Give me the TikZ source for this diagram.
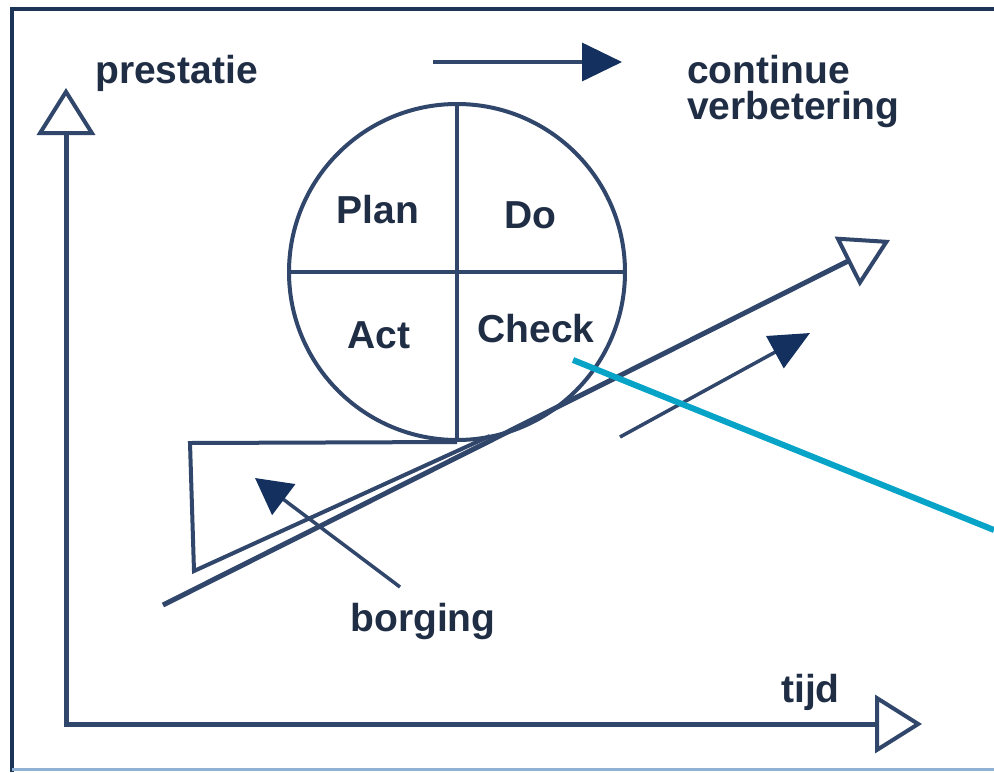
\documentclass[tikz,border=0pt]{standalone}
\usepackage{fontspec}
\setmainfont{Liberation Sans}
\usetikzlibrary{arrows.meta}
\definecolor{txt}{HTML}{1F2D45}
\definecolor{linec}{HTML}{31466B}
\definecolor{headc}{HTML}{13305E}
\definecolor{framec}{HTML}{1C3557}
\definecolor{framelow}{HTML}{8FB2D4}
\definecolor{cyanl}{HTML}{07A4C8}
\begin{document}
\begin{tikzpicture}[x=1pt,y=-1pt,
  lbl/.style={font=\fontsize{39}{36}\selectfont\bfseries, text=txt, inner sep=0pt},
  ln/.style={draw=linec, line width=4pt},
  axis/.style={draw=linec, line width=5pt, line join=miter},
  fillarrow/.style={draw=linec, line width=3.5pt}
]
\useasboundingbox (0,0) rectangle (994,772);
\fill[white] (0,0) rectangle (994,772);
% frame
\draw[framec, line width=4pt] (12,772) -- (12,9) -- (994,9);
\draw[framelow, line width=3pt] (12,769.5) -- (994,769.5);

% axes
\coordinate (ytip) at (66,88);
\coordinate (origin) at (66,724);
\coordinate (xtip) at (922,724);
\draw[axis, {Triangle[open,length=47pt,width=58pt,line width=4pt]}-{Triangle[open,length=47pt,width=58pt,line width=4pt]}]
  (ytip) -- (origin) -- (xtip);

% labels
\node[lbl, anchor=base west] (prestatie) at (95,83) {prestatie};
\node[lbl, anchor=north west, align=left] (cv) at (687,55) {continue\\verbetering};
\node[lbl, anchor=base west] (tijd) at (781,702) {tijd};
\node[lbl, anchor=base] (borging) at (423,631) {borging};

% top arrow
\coordinate (ta) at (433,62);
\coordinate (tb) at (622,62);
\draw[fillarrow, -{Triangle[length=40pt,width=38pt,color=headc]}] (ta) -- (tb);

% PDCA circle
\node[circle, draw=linec, line width=4pt, minimum size=336pt, inner sep=0pt] (pdca) at (457,272) {};
\draw[ln] (pdca.north) -- (pdca.south);
\draw[ln] (pdca.west) -- (pdca.east);
\node[lbl, anchor=base] (plan) at (378,223) {Plan};
\node[lbl, anchor=base] (do) at (530,228) {Do};
\node[lbl, anchor=base] (act) at (379,348) {Act};
\node[lbl, anchor=base] (check) at (536,342) {Check};

% wedge (borging)
\draw[ln, line join=miter] (pdca.south) -- (190,443) -- (194,571) -- (490,436);

% incline
\coordinate (inc0) at (163,605);
\coordinate (inc1) at (890,240);
\draw[draw=linec, line width=5pt, -{Triangle[open,length=48pt,width=55pt,line width=4pt]}] (inc0) -- (inc1);

% small parallel arrow
\coordinate (sa) at (620,437);
\coordinate (sb) at (810,333);
\draw[fillarrow, -{Triangle[length=40pt,width=36pt,color=headc]}] (sa) -- (sb);

% borging arrow
\coordinate (ba) at (400,587);
\coordinate (bb) at (255,478);
\draw[fillarrow, -{Triangle[length=36pt,width=38pt,color=headc]}] (ba) -- (bb);

% cyan pointer
\coordinate (cy0) at (573,360);
\coordinate (cy1) at (994,530);
\draw[cyanl, line width=6pt] (cy0) -- (cy1);
\end{tikzpicture}
\end{document}
